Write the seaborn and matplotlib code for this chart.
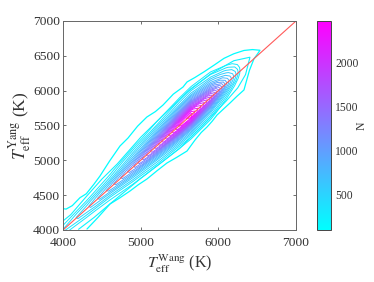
import numpy as np
import pandas as pd
import matplotlib
matplotlib.use("Agg")
import matplotlib.pyplot as plt
import seaborn as sns

sns.set_style("white")
plt.rcParams["font.family"] = ["Liberation Serif", "DejaVu Serif"]
plt.rcParams["mathtext.fontset"] = "stix"

# N: rows = Wang Teff, columns = Yang - Wang offset
teff_wang = [4000, 4300, 4600, 4900, 5200, 5500, 5650, 5900, 6100, 6300, 6450, 6600]
offsets = [-800, -480, -380, -290, -210, -140, -80, -30, 10, 60, 130, 210, 300, 420, 560, 800]
counts = [
    [0, 0, 0, 30, 80, 140, 260, 350, 360, 290, 170, 100, 60, 40, 20, 0],
    [0, 0, 20, 70, 140, 240, 380, 505, 520, 410, 250, 140, 80, 40, 20, 0],
    [0, 10, 40, 110, 210, 340, 550, 760, 790, 650, 400, 240, 120, 60, 20, 0],
    [0, 30, 80, 190, 340, 580, 880, 1100, 1130, 980, 700, 450, 220, 90, 30, 0],
    [0, 50, 110, 280, 520, 880, 1320, 1650, 1700, 1500, 1100, 680, 360, 150, 50, 0],
    [0, 60, 150, 380, 720, 1230, 1900, 2320, 2380, 2150, 1600, 1000, 540, 220, 70, 0],
    [0, 60, 180, 420, 800, 1350, 2050, 2440, 2466, 2320, 1750, 1100, 600, 250, 70, 0],
    [0, 30, 130, 340, 580, 950, 1450, 1800, 1850, 1650, 1200, 780, 430, 170, 60, 0],
    [0, 0, 50, 160, 300, 480, 700, 840, 880, 800, 620, 400, 200, 80, 20, 0],
    [0, 0, 10, 40, 70, 110, 160, 200, 210, 200, 150, 90, 50, 20, 0, 0],
    [0, 0, 0, 10, 30, 50, 80, 95, 100, 100, 80, 50, 20, 0, 0, 0],
    [0, 0, 0, 0, 0, 0, 0, 0, 0, 0, 0, 0, 0, 0, 0, 0],
]
levels = [280, 360, 450, 550, 650, 750, 850, 950, 1050, 1150, 1250, 1350,
          1450, 1550, 1650, 1750, 1850, 1950, 2050, 2150, 2250, 2350, 2430]

# outermost contour (jagged), traced by hand
outer_x = [4000, 4040, 4120, 4219, 4300, 4400, 4476, 4600, 4734, 4837, 4960, 5080, 5190, 5288, 5420, 5545,
           5597, 5700, 5815, 5950, 6073, 6200, 6330, 6440, 6536, 6500, 6460, 6400, 6330, 6240, 6150, 6060,
           5983, 5920, 5854, 5780, 5700, 5597, 5460, 5339, 5210, 5081, 4970, 4863, 4730, 4605, 4450, 4309]
outer_y = [4306, 4300, 4350, 4464, 4520, 4660, 4775, 4990, 5206, 5320, 5490, 5622, 5700, 5794, 5950, 6052,
           6125, 6190, 6270, 6370, 6464, 6530, 6577, 6590, 6580, 6520, 6460, 6290, 6010, 5920, 5823, 5730,
           5650, 5560, 5478, 5400, 5292, 5134, 5040, 4962, 4850, 4732, 4650, 4560, 4460, 4373, 4180, 4014]
# second contour
second_x = [4000, 4100, 4300, 4500, 4700, 5000, 5300, 5600, 5900, 6200, 6407, 6350, 6250, 6100, 5800, 5500,
            5000, 4600, 4400, 4200]
second_y = [4130, 4220, 4480, 4730, 4950, 5330, 5660, 5980, 6240, 6430, 6480, 6230, 6040, 5850, 5500, 5170,
            4740, 4370, 4180, 4010]

diag_x = [4000, 7000]
diag_y = [4000, 7000]

fig = plt.figure(figsize=(3.74, 2.82), dpi=100)
ax = fig.add_axes([63 / 374, 1 - 230 / 282, 233 / 374, 209 / 282])
cax = fig.add_axes([317 / 374, 1 - 230 / 282, 14 / 374, 209 / 282])

norm = matplotlib.colors.Normalize(vmin=91, vmax=2466)
cmap = plt.get_cmap("cool")

wang = np.array(teff_wang, dtype=float)[:, None]
yang = wang + np.array(offsets, dtype=float)[None, :]
wang = np.repeat(wang, len(offsets), axis=1)
ax.contour(wang, yang, np.array(counts, dtype=float), levels=levels, cmap=cmap, norm=norm, linewidths=0.7)

df_outer = pd.DataFrame({"x": outer_x, "y": outer_y})
df_second = pd.DataFrame({"x": second_x, "y": second_y})
sns.lineplot(data=df_outer, x="x", y="y", sort=False, estimator=None, color=cmap(norm(110)), lw=0.9, ax=ax)
sns.lineplot(data=df_second, x="x", y="y", sort=False, estimator=None, color=cmap(norm(200)), lw=0.8, ax=ax)
ax.plot(diag_x, diag_y, color="#ff5a5a", lw=0.8)

ax.set_xlim(4000, 7000)
ax.set_ylim(4000, 7000)
ax.set_xticks([4000, 5000, 6000, 7000])
ax.set_yticks([4000, 4500, 5000, 5500, 6000, 6500, 7000])
ax.tick_params(direction="in", top=True, right=True, bottom=True, left=True, length=2.5, width=0.6,
               color="#555555", labelcolor="#333333", labelsize=9.7, pad=2)
ax.tick_params(axis="x", pad=5)
for s in ax.spines.values():
    s.set_color("#666666")
    s.set_linewidth(0.7)
ax.set_xlabel(r"$T_{\rm eff}^{\rm Wang}$ (K)", fontsize=11.5, color="#333333", labelpad=3)
ax.set_ylabel(r"$T_{\rm eff}^{\rm Yang}$ (K)", fontsize=12.5, color="#333333", labelpad=0)

sm = matplotlib.cm.ScalarMappable(norm=norm, cmap=cmap)
cb = fig.colorbar(sm, cax=cax)
cb.set_ticks([500, 1000, 1500, 2000])
cb.ax.tick_params(direction="in", length=2.5, width=0.6, color="#333333", labelcolor="#333333", labelsize=8.4, pad=3)
cb.outline.set_edgecolor("#444444")
cb.outline.set_linewidth(0.7)
cb.set_label("N", fontsize=8.5, color="#333333", labelpad=-2)

fig.savefig("out.png", dpi=100)
